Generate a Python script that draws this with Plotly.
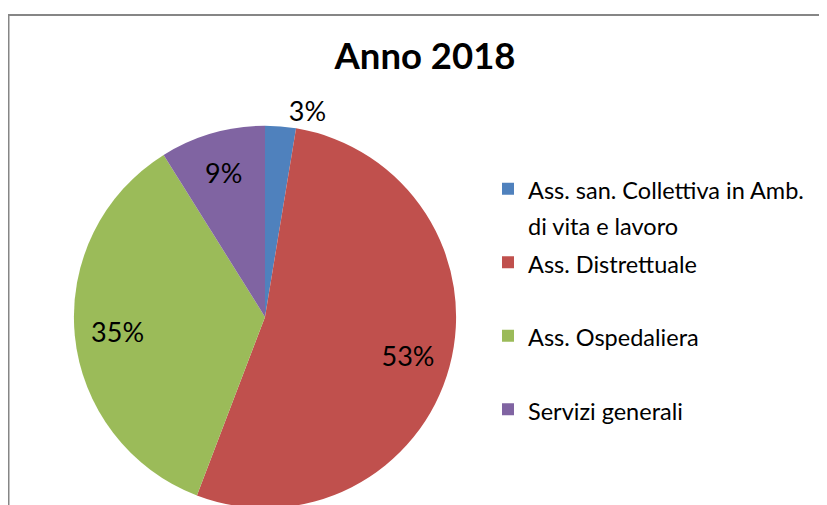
import plotly.graph_objects as go

labels = [
    "Ass. san. Collettiva in Amb.<br>di vita e lavoro",
    "Ass. Distrettuale<br> ",
    "Ass. Ospedaliera<br> ",
    "Servizi generali<br> ",
]
values = [2.6, 53.2, 35.3, 8.9]
colors = ["#4F81BD", "#C0504D", "#9BBB59", "#8064A2"]
text_pos = ["outside", "inside", "inside", "inside"]
title_text = "Anno 2018"

W, H = 827, 505
FONT = "Lato"
LEGEND_TEXT_PX = 23.5

legend_labels = [
    "<br>".join(
        '<span style="font-size:%.1fpx">%s</span>' % (LEGEND_TEXT_PX, part) if part.strip() else part
        for part in lab.split("<br>")
    )
    for lab in labels
]

domain = dict(x=[64 / W, 450 / W], y=[0, 1 - 119 / H])

fig = go.Figure()

# main pie (slices + legend)
fig.add_trace(
    go.Pie(
        labels=legend_labels,
        values=values,
        sort=False,
        direction="clockwise",
        rotation=0,
        marker=dict(colors=colors, line=dict(width=0)),
        textinfo="none",
        domain=domain,
        hoverinfo="percent",
    )
)

# transparent ring carrying the percentage labels (placed in the outer band)
fig.add_trace(
    go.Pie(
        labels=legend_labels,
        values=values,
        sort=False,
        direction="clockwise",
        rotation=0,
        hole=0.55,
        marker=dict(colors=["rgba(0,0,0,0)"] * len(values), line=dict(width=0)),
        texttemplate="%{percent:.0%}",
        textposition=text_pos,
        insidetextorientation="horizontal",
        textfont=dict(family=FONT, size=27, color="#000000"),
        domain=domain,
        showlegend=False,
        hoverinfo="skip",
    )
)

fig.update_layout(
    width=W,
    height=H,
    margin=dict(l=0, r=0, t=0, b=0),
    paper_bgcolor="white",
    plot_bgcolor="white",
    title=dict(
        text="<b>" + title_text + "</b>",
        x=417 / W,
        xanchor="center",
        y=1 - 48.5 / H,
        yanchor="middle",
        font=dict(family=FONT, size=36.5, color="#000000"),
    ),
    legend=dict(
        x=480 / W,
        xanchor="left",
        y=1 - 158.3 / H,
        yanchor="top",
        valign="top",
        font=dict(family=FONT, size=27.1, color="#000000"),
        bgcolor="rgba(0,0,0,0)",
    ),
    shapes=[
        dict(
            type="rect",
            xref="paper",
            yref="paper",
            x0=0.5 / W,
            x1=1.02,
            y0=-0.02,
            y1=1 - 7 / H,
            line=dict(color="#868686", width=2),
            fillcolor="rgba(0,0,0,0)",
            layer="below",
        )
    ],
)

fig.write_html("out.html")
